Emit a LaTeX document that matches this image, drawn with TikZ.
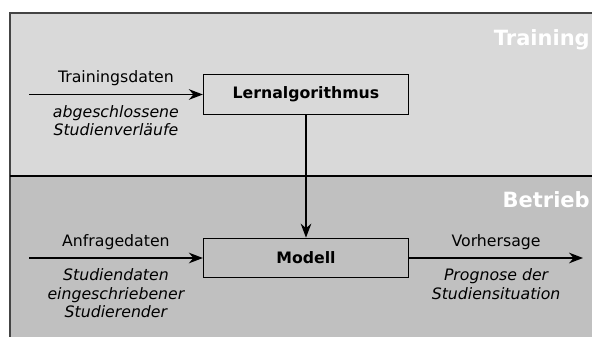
\documentclass[tikz,border=0pt]{standalone}
\usepackage{fontspec}
\setmainfont{DejaVu Sans}
\usetikzlibrary{arrows.meta,positioning}
\definecolor{trainbg}{HTML}{D9D9D9}
\definecolor{betriebbg}{HTML}{C0C0C0}
\definecolor{framegray}{HTML}{444444}
\tikzset{
    stage/.style={draw=black,line width=1pt,minimum width=153.75pt,minimum height=29.6pt,
        font=\fontsize{11.8}{14}\selectfont\bfseries},
    flow/.style={line width=1pt,-{Stealth[length=10.5pt,width=8pt]}},
    toplabel/.style={anchor=base,yshift=9pt,inner sep=0pt,font=\fontsize{11.8}{14}\selectfont},
    sublabel/.style={anchor=north,yshift=-7.5pt,inner sep=0pt,align=center,
        font=\fontsize{11.8}{14}\selectfont\itshape},
    phase/.style={anchor=base east,inner sep=0pt,text=white,font=\fontsize{15.75}{18}\selectfont\bfseries}
}
\begin{document}
\begin{tikzpicture}[x=0.75pt,y=-0.75pt]
    \useasboundingbox (0,0) rectangle (592,336);
    % Phases
    \fill[trainbg] (10,12.7) rectangle (600,176);
    \fill[betriebbg] (10,176) rectangle (600,350);
    \draw[framegray,line width=1.5pt] (10,350) -- (10,12.7) -- (600,12.7);
    \draw[black,line width=1.2pt] (10,176) -- (600,176);
    \foreach \name/\y in {Training/45,Betrieb/207}
        \node[phase] at (590,\y) {\name};
    % Stages
    \node[stage] (lern) at (306,94.5) {Lernalgorithmus};
    \node[stage] (modell) at (306,258) {Modell};
    \coordinate (trainin) at (29,94.5);
    \coordinate (anfragein) at (29,258);
    \coordinate (vorhersageout) at (583,258);
    % Data flow
    \draw[flow] (trainin) -- node[toplabel] {Trainingsdaten}
        node[sublabel] {abgeschlossene\\Studienverläufe} (lern);
    \draw[flow] (lern) -- (modell);
    \draw[flow] (anfragein) -- node[toplabel] {Anfragedaten}
        node[sublabel] {Studiendaten\\eingeschriebener\\Studierender} (modell);
    \draw[flow] (modell) -- node[toplabel] {Vorhersage}
        node[sublabel] {Prognose der\\Studiensituation} (vorhersageout);
\end{tikzpicture}
\end{document}
